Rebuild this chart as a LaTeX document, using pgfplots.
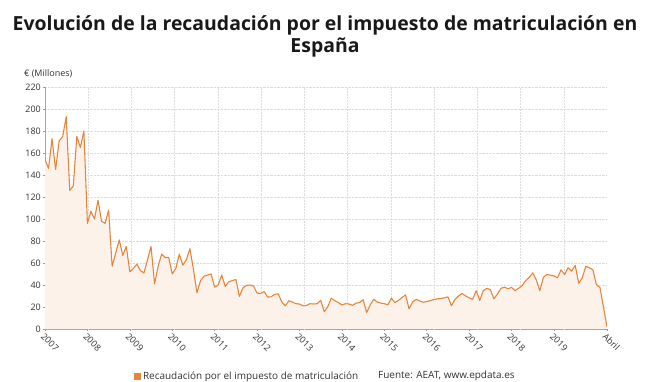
\documentclass[border=0pt]{standalone}
\usepackage{pgfplots}
\pgfplotsset{compat=1.18}
\usepackage{pgfplotstable}
\usepackage{fontspec}
\setmainfont{Open Sans}
\definecolor{lineor}{HTML}{E8843C}
\definecolor{fillor}{HTML}{FDF2EA}
\definecolor{txt}{HTML}{333333}
\definecolor{gridc}{HTML}{DDDDDD}
\pgfplotstableread{
i v
0 154
1 146
2 173
3 145
4 171
5 175
6 193
7 126
8 130
9 175
10 165
11 180
12 96
13 107
14 100
15 117
16 98
17 96
18 108
19 57
20 69
21 81
22 67
23 75
24 52
25 55
26 59
27 53
28 51
29 63
30 75
31 41
32 57
33 68
34 65
35 65
36 50
37 55
38 68
39 58
40 63
41 73
42 54
43 33
44 44
45 48
46 49
47 50
48 38
49 40
50 49
51 38.6
52 43
53 44
54 45
55 29.6
56 37.4
57 39.6
58 40
59 39
60 32.6
61 32.3
62 34
63 29
64 29.3
65 31.5
66 32
67 24.5
68 21
69 25.7
70 24.5
71 23
72 22.7
73 21
74 21.5
75 23
76 22.7
77 23
78 26
79 15.7
80 20.3
81 28
82 25.7
83 24
84 21.8
85 23
86 22.7
87 21.5
88 23.5
89 24
90 26.6
91 15
92 21.8
93 27
94 24.5
95 23.5
96 23
97 22
98 28
99 24
100 26
101 28.6
102 31
103 18.3
104 24.6
105 27
106 25.5
107 24.3
108 25
109 25.8
110 26.8
111 27.4
112 27.7
113 28.3
114 29.2
115 21.2
116 27
117 30
118 32.3
119 30
120 28.3
121 27
122 34.8
123 26
124 34.8
125 37
126 35.7
127 27.4
128 31.7
129 37
130 38
131 36.6
132 37.8
133 34.8
134 37
135 39.4
136 44
137 47
138 51
139 44.6
140 34.8
141 47
142 49.5
143 49
144 48.3
145 46.5
146 53.8
147 49.5
148 55.7
149 52.6
150 57.8
151 41.5
152 46.5
153 57
154 55.7
155 53.8
156 40.3
157 37.8
158 20
159 2
}\datatable
\begin{document}
\begin{tikzpicture}
\useasboundingbox (0,0) rectangle (650bp,382bp);
\node[font=\fontsize{19.5}{22}\selectfont\bfseries, text=black!90, align=center] at (325bp,346bp)
  {Evolución de la recaudación por el impuesto de matriculación en\\España};
\node[font=\fontsize{9}{11}\selectfont, text=txt, anchor=base west, inner sep=0pt] at (24bp,305bp) {€ (Millones)};
\begin{axis}[
  at={(45bp,53bp)}, anchor=south west,
  width=562bp, height=242bp, scale only axis,
  xmin=0, xmax=159, ymin=0, ymax=220,
  axis x line=bottom, axis y line=left,
  axis line style={-, gray!70, line width=0.8pt},
  ytick={0,20,...,220},
  xtick={0,12,24,36,48,60,72,84,96,108,120,132,144,159},
  xticklabels={2007,2008,2009,2010,2011,2012,2013,2014,2015,2016,2017,2018,2019,Abril},
  extra x ticks={12.2308,24.4615,36.6923,48.9231,61.1538,73.3846,85.6154,97.8462,110.0769,122.3077,134.5385,146.7692},
  extra x tick labels={},
  extra x tick style={grid=major, major tick length=0pt, tick style={draw=none},
    major grid style={densely dotted, gridc, line width=0.5pt}},
  ymajorgrids=true,
  grid style={densely dotted, gridc, line width=0.5pt},
  tick align=outside, major tick length=2bp,
  tick style={gray!80, line width=0.6pt},
  /pgf/number format/assume math mode=true,
  tick label style={font=\fontsize{9}{11}\selectfont, text=txt},
  x tick label style={rotate=-45, anchor=north west, inner sep=1pt},
  y tick label style={inner sep=2pt},
  legend style={at={(0.158,-0.196)}, anchor=west, draw=none, fill=none,
    font=\fontsize{10}{12}\selectfont, text=txt, inner sep=0pt},
  legend image code/.code={\fill[lineor] (0bp,-3bp) rectangle (6bp,3bp);},
]
\addplot[draw=none, fill=fillor, forget plot] table[x=i, y=v] {\datatable} \closedcycle;
\addplot[lineor, line width=1.1pt, line join=round] table[x=i, y=v] {\datatable};
\addlegendentry{Recaudación por el impuesto de matriculación}
\end{axis}
\node[font=\fontsize{10}{12}\selectfont, text=txt, anchor=west, inner sep=0pt] at (378bp,6.5bp) {Fuente: AEAT, www.epdata.es};
\end{tikzpicture}
\end{document}
